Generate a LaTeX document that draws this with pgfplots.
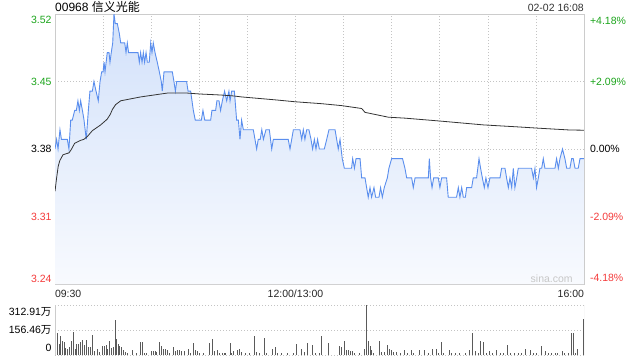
\documentclass[border=0pt]{standalone}
\usepackage{pgfplots}
\usepackage{pgfplotstable}
\pgfplotsset{compat=1.18}
\usepackage{fontspec}
\setmainfont{Liberation Sans}
\newfontfamily\cjk{Noto Sans CJK SC}
\definecolor{upgreen}{HTML}{1CA51C}
\definecolor{downred}{HTML}{F43B3B}
\definecolor{priceblue}{HTML}{5A8EEE}
\definecolor{gridgray}{HTML}{C4C4C4}
\definecolor{bordergray}{HTML}{CCCCCC}
\definecolor{filltop}{HTML}{D2E1FA}
\definecolor{fillbot}{HTML}{F8FAFE}
\definecolor{avgline}{HTML}{333333}
\definecolor{volbar}{HTML}{5A5A5A}

% minutes since 09:30 (lunch break removed), price
\pgfplotstableread{
t p
0 3.38
1.0 3.39
1.9 3.38
3.1 3.40
4.0 3.39
7.7 3.39
8.7 3.38
9.8 3.41
10.8 3.41
12.3 3.42
13.3 3.42
14.3 3.43
15.2 3.42
16.0 3.43
17.1 3.42
18.1 3.41
19.5 3.39
20.8 3.42
21.8 3.44
23.3 3.44
24.3 3.45
25.6 3.44
27.0 3.43
28.1 3.45
29.1 3.46
30.0 3.46
30.6 3.47
31.2 3.46
32.6 3.48
33.7 3.48
34.3 3.47
35.1 3.48
36.0 3.49
36.8 3.52
37.6 3.51
38.9 3.51
40.1 3.50
41.0 3.49
43.5 3.49
44.3 3.48
45.1 3.49
45.9 3.48
51.8 3.48
52.6 3.47
53.4 3.48
54.3 3.47
55.1 3.48
55.9 3.47
56.8 3.48
57.6 3.47
58.8 3.47
59.7 3.49
60.5 3.48
61.3 3.49
62.4 3.48
63.8 3.47
65.1 3.46
66.3 3.45
66.9 3.44
68.0 3.46
73.2 3.46
74.2 3.45
75.1 3.44
75.9 3.45
82.1 3.45
83.0 3.44
84.6 3.44
86.3 3.42
87.5 3.41
91.3 3.41
92.3 3.42
93.4 3.41
97.1 3.41
97.9 3.42
100.2 3.42
101.0 3.43
102.3 3.43
103.3 3.42
104.4 3.43
105.8 3.44
107.1 3.43
108.5 3.44
109.2 3.43
110.2 3.44
111.9 3.44
113.3 3.41
114.4 3.41
115.4 3.39
116.4 3.41
117.5 3.40
123.7 3.40
125.8 3.38
126.8 3.39
128.0 3.39
129.0 3.40
130.0 3.39
131.6 3.40
133.7 3.40
135.2 3.38
136.2 3.39
145.5 3.39
146.6 3.38
148.7 3.40
152.8 3.40
153.9 3.39
154.9 3.40
155.9 3.39
157.0 3.40
158.4 3.40
159.7 3.39
160.7 3.38
161.8 3.39
162.8 3.38
163.8 3.39
164.9 3.38
168.0 3.38
169.5 3.39
170.9 3.40
174.7 3.40
175.7 3.39
176.7 3.38
177.8 3.39
179.2 3.37
180.5 3.36
185.0 3.36
185.7 3.37
186.8 3.36
187.8 3.37
190.3 3.37
191.3 3.35
193.4 3.35
194.4 3.34
195.4 3.33
196.5 3.34
197.5 3.33
199.0 3.34
200.0 3.33
202.1 3.33
203.1 3.34
204.2 3.33
205.4 3.34
207.3 3.35
208.3 3.36
210.0 3.37
216.8 3.37
218.3 3.36
219.4 3.35
222.5 3.35
223.5 3.34
224.6 3.35
232.9 3.35
233.5 3.37
234.3 3.35
235.2 3.34
236.2 3.35
239.1 3.35
240.1 3.34
241.2 3.35
244.3 3.35
245.3 3.33
250.5 3.33
251.6 3.34
252.6 3.33
253.7 3.34
254.7 3.33
256.0 3.33
256.8 3.34
259.9 3.34
260.9 3.35
263.0 3.35
264.5 3.37
265.5 3.36
266.6 3.35
267.8 3.34
268.8 3.35
270.1 3.34
271.3 3.35
277.6 3.35
278.6 3.36
280.7 3.36
281.7 3.35
282.8 3.34
283.8 3.35
284.9 3.34
285.9 3.36
286.9 3.34
288.0 3.35
289.0 3.36
297.3 3.36
298.4 3.35
299.4 3.36
300.4 3.34
301.5 3.35
302.5 3.36
303.6 3.36
304.6 3.37
305.6 3.36
311.9 3.36
312.9 3.37
314.0 3.36
315.0 3.37
316.6 3.38
318.1 3.37
319.2 3.36
321.2 3.36
322.3 3.37
323.3 3.37
324.4 3.36
326.4 3.36
327.5 3.37
330 3.37
}\pricedata

\pgfplotstableread{
t a
0 3.336
1 3.350
2 3.362
3 3.368
5 3.374
8.7 3.376
10 3.379
12.3 3.386
16 3.389
18 3.390
20.2 3.393
23.3 3.399
28.5 3.405
32.6 3.411
34.5 3.416
35.8 3.421
37.8 3.426
41 3.430
47.2 3.432
53.4 3.434
61.7 3.436
70.1 3.438
82.5 3.438
90.8 3.437
103.3 3.436
111.6 3.435
116.4 3.434
137.2 3.431
149.7 3.429
166.3 3.427
178.8 3.425
191.3 3.422
193.4 3.418
207.9 3.413
218.3 3.412
240.1 3.409
267.2 3.405
288 3.403
302.5 3.4015
321.2 3.3997
330 3.3995
}\avgdata

\pgfplotstableread{
t v
0.2 160.6
1.45 139.8
2.7 70.9
3.5 118.9
4.8 89.7
5.6 83.4
6.7 41.7
7.9 35.5
9.0 48.0
10.2 89.7
11.4 146.0
12.5 35.5
13.5 68.8
14.8 68.8
16.0 83.4
17.3 93.9
18.3 62.6
19.7 93.9
21.0 52.2
22.0 52.2
23.3 125.2
24.5 25.0
26.4 35.5
27.7 18.8
29.3 56.3
30.6 56.3
31.8 62.6
32.6 37.5
33.9 89.7
35.0 41.7
36.2 48.0
37.6 219
38.3 100
39.3 68.8
40.1 56.3
41.4 48.0
42.6 31.3
43.9 20.9
45.5 10.4
48.5 31.3
51.0 10.4
53.4 79.3
54.7 83.4
55.9 10.4
57.2 14.6
60.3 27.1
61.3 25.0
62.4 25.0
63.4 20.9
65.1 79.3
66.3 56.3
67.6 35.5
68.8 35.5
70.1 31.3
71.3 10.4
73.8 52.2
75.3 25.0
76.3 31.3
77.6 31.3
79.0 27.1
80.5 25.0
83.2 37.5
84.2 10.4
86.3 73.0
87.5 31.3
88.8 25.0
90.0 14.6
92.5 10.4
96.3 77.2
98.3 98.0
99.6 25.0
101.3 31.3
102.5 14.6
104.2 10.4
105.4 14.6
106.3 10.4
109.2 77.2
110.2 10.4
111.2 25.0
113.7 31.3
115.0 35.5
116.6 20.9
118.5 10.4
121.2 10.4
124.3 118.9
125.8 20.9
127.5 14.6
130.6 108.5
132.0 10.4
135.8 35.5
137.4 52.2
138.7 10.4
141.4 10.4
144.9 10.4
148.7 10.4
150.7 68.8
153.9 35.5
155.5 20.9
157.4 77.2
160.5 64.7
162.2 10.4
164.9 10.4
166.3 118.9
170.5 77.2
177.4 56.3
179.0 52.2
180.7 89.7
181.5 31.3
182.8 31.3
184.0 25.0
185.3 27.1
186.9 10.4
189.8 10.4
193.2 39.6
194.2 312.91
195.5 87.6
196.5 56.3
197.5 31.3
198.6 14.6
202.3 89.7
203.8 20.9
205.4 18.8
207.3 64.7
208.5 35.5
209.6 31.3
211.0 20.9
213.1 18.8
215.2 10.4
217.9 31.3
219.8 14.6
222.3 31.3
223.9 14.6
227.1 31.3
230.4 31.3
232.9 14.6
235.2 37.5
237.7 37.5
239.3 14.6
241.0 81.4
242.6 10.4
246.0 31.3
247.6 14.6
250.1 14.6
252.6 10.4
256.0 10.4
258.5 31.3
260.3 139.8
262.0 27.1
263.9 14.6
265.3 89.7
267.2 79.3
269.3 14.6
270.9 22.9
273.0 14.6
275.1 31.3
277.6 10.4
279.7 14.6
282.2 64.7
284.2 14.6
286.3 14.6
289.2 14.6
291.1 10.4
293.4 39.6
296.7 31.3
298.4 14.6
300.5 10.4
303.6 56.3
305.9 22.9
307.9 14.6
310.0 14.6
311.9 14.6
313.6 14.6
316.5 27.1
318.1 14.6
320.2 14.6
321.9 139.8
323.3 139.8
324.6 14.6
325.8 35.5
329.6 223.2
}\voldata

\begin{document}
\begin{tikzpicture}[font=\fontsize{10.5}{12.6}\selectfont]
\useasboundingbox (0,0) rectangle (640pt,360pt);

% header texts
\node[anchor=base west, inner sep=0pt, font=\fontsize{12}{14}\selectfont] at (55pt,349pt) {00968 {\cjk 信义光能}};
\node[anchor=base east, inner sep=0pt, text=black!80] at (584pt,349pt) {02-02 16:08};

% main price axis
\begin{axis}[
  at={(55pt,76pt)}, anchor=south west,
  scale only axis, width=529pt, height=270pt,
  xmin=0, xmax=330, ymin=3.24, ymax=3.52,
  xtick={0,30,...,330},
  xticklabels={\makebox[0pt][l]{09:30},,,,,12:00/13:00,,,,,,\makebox[0pt][r]{16:00}},
  xticklabel style={yshift=-2.5pt, text=black!85},
  ytick={3.24,3.31,3.45,3.52},
  yticklabels={\raisebox{1.2pt}[0pt][0pt]{\textcolor{downred}{3.24}},\textcolor{downred}{3.31},\textcolor{upgreen}{3.45},\raisebox{-9.8pt}[0pt][0pt]{\textcolor{upgreen}{3.52}}},
  extra y ticks={3.38},
  extra y tick labels={3.38},
  extra y tick style={grid style={black!35, dash pattern=on 1.5pt off 1.5pt, line width=0.6pt}},
  grid=major,
  major grid style={gridgray, dash pattern=on 1pt off 2pt, line width=0.6pt},
  major tick length=0pt,
  axis line style={bordergray, line width=0.8pt},
  axis on top=false,
]
\addplot[draw=none, top color=filltop, bottom color=fillbot] table[x=t,y=p] {\pricedata} -- (axis cs:330,3.24) -- (axis cs:0,3.24) -- cycle;
\addplot[priceblue, line width=0.9pt, no marks] table[x=t,y=p] {\pricedata};
\addplot[avgline, line width=0.8pt, no marks] table[x=t,y=a] {\avgdata};
\node[anchor=base east, inner sep=0pt, text=black!22] at (rel axis cs:0.979,0.006) {sina.com};
\end{axis}

% right percentage axis
\begin{axis}[
  at={(55pt,76pt)}, anchor=south west,
  scale only axis, width=529pt, height=270pt,
  xmin=0, xmax=330, ymin=3.24, ymax=3.52,
  axis x line=none, axis y line*=right,
  ytick={3.24,3.31,3.38,3.45,3.52},
  yticklabels={\raisebox{2.2pt}[0pt][0pt]{\textcolor{downred}{-4.18\%}},\textcolor{downred}{-2.09\%},0.00\%,\textcolor{upgreen}{+2.09\%},\raisebox{-10.8pt}[0pt][0pt]{\textcolor{upgreen}{+4.18\%}}},
  yticklabel style={xshift=2.5pt},
  major tick length=0pt,
  axis line style={bordergray, line width=0.8pt},
]
\addplot[draw=none] coordinates {(0,3.38)};
\end{axis}

% volume axis
\begin{axis}[
  at={(55pt,5pt)}, anchor=south west,
  scale only axis, width=529pt, height=50pt,
  xmin=0, xmax=330, ymin=0, ymax=312.91,
  xtick=\empty,
  ytick={0,156.46,312.91},
  yticklabels={\raisebox{3.2pt}[0pt][0pt]{0},156.46{\cjk 万},\raisebox{-10.8pt}[0pt][0pt]{312.91{\cjk 万}}},
  ymajorgrids,
  major grid style={gridgray, dash pattern=on 1pt off 2pt, line width=0.6pt},
  major tick length=0pt,
  axis line style={draw=none},
]
\addplot[ycomb, volbar, line width=0.9pt, no marks] table[x=t,y=v] {\voldata};
\draw[bordergray, line width=0.8pt] (rel axis cs:0,0) -- (rel axis cs:0,1);
\draw[bordergray, line width=0.8pt] (rel axis cs:1,0) -- (rel axis cs:1,1);
\end{axis}
\end{tikzpicture}
\end{document}
